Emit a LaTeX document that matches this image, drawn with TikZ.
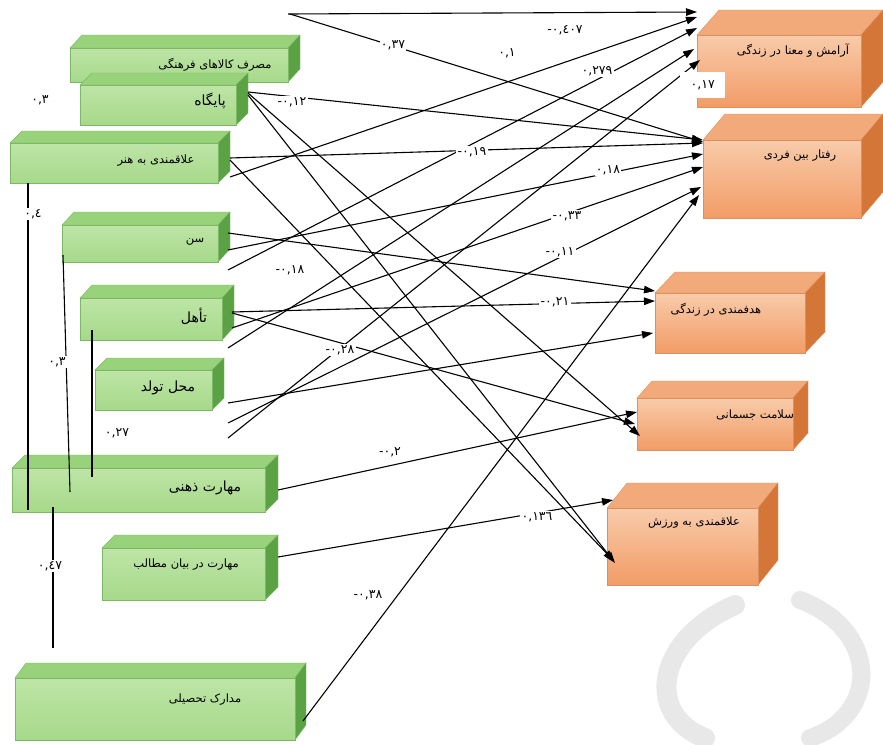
\documentclass[tikz,border=0pt]{standalone}
\usepackage{fontspec}
\usetikzlibrary{arrows.meta,calc}
\TeXXeTstate=1
\newfontfamily\arabicfont[Script=Arabic]{DejaVu Sans}
\newfontfamily\numfont{DejaVu Sans}
\definecolor{gtop}{HTML}{98D27A}
\definecolor{gside}{HTML}{5AA244}
\definecolor{gedge}{HTML}{7DB866}
\definecolor{gdark}{HTML}{A6D98A}
\definecolor{gmid}{HTML}{F0F9EA}
\definecolor{glite}{HTML}{BEE5A6}
\definecolor{otop}{HTML}{F3AA7A}
\definecolor{oside}{HTML}{D47638}
\definecolor{oedge}{HTML}{DC9060}
\definecolor{odark}{HTML}{F29C66}
\definecolor{omid}{HTML}{FDF0E7}
\definecolor{olite}{HTML}{F8CBAA}
\definecolor{wmark}{HTML}{E8E8E8}
\newcommand\cubebox[8]{%
  \filldraw[fill=#8top, draw=#8edge, line width=0.4pt] (#2,#3) -- (#2+#6,#3-#7) -- (#4+#6,#3-#7) -- (#4,#3) -- cycle;
  \filldraw[fill=#8side, draw=#8edge, line width=0.4pt] (#4,#3) -- (#4+#6,#3-#7) -- (#4+#6,#5-#7) -- (#4,#5) -- cycle;
  \node[#8front, minimum width={#4-#2}, minimum height={#5-#3}] (#1) at (#2,#3) {};
}
\begin{document}
\begin{tikzpicture}[x=1pt,y=-1pt,
  gfront/.style={anchor=north west, inner sep=0pt, outer sep=0pt, draw=gedge, line width=0.4pt,
    top color=glite, middle color=gmid, bottom color=gdark},
  ofront/.style={anchor=north west, inner sep=0pt, outer sep=0pt, draw=oedge, line width=0.4pt,
    top color=olite, middle color=omid, bottom color=odark},
  tnorm/.style={font=\arabicfont\fontsize{11.5}{12}\selectfont, inner sep=0pt},
  tbig/.style={font=\arabicfont\fontsize{14}{15}\selectfont, inner sep=0pt},
  lab/.style={font=\numfont\fontsize{12.5}{13}\selectfont, fill=white, inner sep=1.2pt},
  conn/.style={line width=1.1pt, -{Triangle[length=11pt,width=7.5pt]}},
  corr/.style={line width=1.1pt}]
\useasboundingbox (0,0) rectangle (883,744);
\fill[white] (0,0) rectangle (883,744);
% watermark
\draw[wmark, line width=20pt, line cap=round] (735,605) .. controls (655,640) and (645,715) .. (705,738);
\draw[wmark, line width=18pt, line cap=round] (800,600) .. controls (880,630) and (880,715) .. (810,738);
% green boxes
\cubebox{masraf}{70}{48}{288}{82}{12}{13}{g}
\cubebox{paygah}{80}{85}{236}{125}{12}{12}{g}
\cubebox{alaghe}{10}{143}{218}{183}{12}{12}{g}
\cubebox{sen}{62}{225}{218}{262}{12}{13}{g}
\cubebox{taahol}{80}{298}{222}{340}{12}{13}{g}
\cubebox{mahal}{95}{370}{212}{410}{12}{12}{g}
\cubebox{zehni}{12}{468}{265}{512}{13}{13}{g}
\cubebox{bayan}{102}{548}{265}{600}{13}{13}{g}
\cubebox{madarek}{15}{678}{295}{740}{11}{15}{g}
% orange boxes
\cubebox{aramesh}{697}{35}{861}{107}{22}{25}{o}
\cubebox{raftar}{703}{140}{861}{218}{22}{26}{o}
\cubebox{hadaf}{655}{293}{805}{353}{20}{21}{o}
\cubebox{salamat}{637}{398}{793}{450}{15}{17}{o}
\cubebox{varzesh}{607}{508}{758}{585}{20}{25}{o}
% box texts
\node[tnorm] (masraf-t) at (215,65) {\beginR مصرف کالاهای  فرهنگی\endR};
\node[tbig] (paygah-t) at (210,101) {\beginR پایگاه\endR};
\node[tnorm] (alaghe-t) at (156,161) {\beginR علاقمندی به هنر\endR};
\node[tnorm] (sen-t) at (195,242) {\beginR سن\endR};
\node[tbig] (taahol-t) at (194,316) {\beginR تأهل\endR};
\node[tbig] (mahal-t) at (168,388) {\beginR محل تولد\endR};
\node[tbig] (zehni-t) at (205,488) {\beginR مهارت ذهنی\endR};
\node[tnorm] (bayan-t) at (186,565) {\beginR مهارت  در بیان مطالب\endR};
\node[tnorm] (madarek-t) at (205,700) {\beginR مدارک تحصیلی\endR};
\node[tnorm] (aramesh-t) at (793,51) {\beginR آرامش و معنا در زندگی\endR};
\node[tnorm] (raftar-t) at (800,156) {\beginR رفتار بین فردی\endR};
\node[tnorm] (hadaf-t) at (716,310) {\beginR هدفمندی  در زندگی\endR};
\node[tnorm] (salamat-t) at (755,415) {\beginR سلامت جسمانی\endR};
\node[tnorm] (varzesh-t) at (694,523) {\beginR علاقمندی به ورزش\endR};
% connectors to aramesh
\draw[conn] ([shift={(0,-51)}]masraf.east) -- ([shift={(0,-59)}]aramesh.west);
\draw[conn] ([shift={(12,14)}]alaghe.east) -- ([shift={(0,-54)}]aramesh.west);
\draw[conn] ([shift={(10,26.5)}]sen.east) -- ([shift={(0,-43)}]aramesh.west);
\draw[conn] ([shift={(6,29)}]taahol.east) -- ([shift={(-3,-22)}]aramesh.west);
\draw[conn] ([shift={(16,48)}]mahal.east) -- ([shift={(3,-11)}]aramesh.west);
% connectors to raftar
\draw[conn] ([shift={(2,-51)}]masraf.east) -- ([shift={(0,-37)}]raftar.west);
\draw[conn] ([shift={(12,-13)}]paygah.east) -- ([shift={(0,-39)}]raftar.west);
\draw[conn] ([shift={(12,-5)}]alaghe.east) -- ([shift={(0,-36)}]raftar.west);
\draw[conn] ([shift={(10,6.5)}]sen.east) -- ([shift={(0,-25)}]raftar.west);
\draw[conn] ([shift={(10,9)}]taahol.east) -- ([shift={(0,-12)}]raftar.west);
\draw[conn] ([shift={(16,33)}]mahal.east) -- ([shift={(-2,8)}]raftar.west);
\draw[conn] ([shift={(8,12)}]madarek.east) -- ([shift={(-4,16)}]raftar.west);
% connectors to hadaf
\draw[conn] ([shift={(10,-10.5)}]sen.east) -- ([shift={(0,-32)}]hadaf.west);
\draw[conn] ([shift={(10,-7)}]taahol.east) -- ([shift={(0,-22)}]hadaf.west);
\draw[conn] ([shift={(16,13)}]mahal.east) -- ([shift={(-2,10)}]hadaf.west);
% connectors to salamat
\draw[conn] ([shift={(12,-12)}]paygah.east) -- ([shift={(3,12)}]salamat.west);
\draw[conn] ([shift={(10,-6)}]taahol.east) -- ([shift={(-2,0)}]salamat.west);
\draw[conn] ([shift={(13,0)}]zehni.east) -- ([shift={(0,-12)}]salamat.west);
% connectors to varzesh
\draw[conn] ([shift={(12,-10)}]paygah.east) -- ([shift={(8,16.5)}]varzesh.west);
\draw[conn] ([shift={(12,-3)}]alaghe.east) -- ([shift={(7,14.5)}]varzesh.west);
\draw[conn] ([shift={(13,-17)}]bayan.east) -- ([shift={(6,-46.5)}]varzesh.west);
% correlations on the left
\draw[corr] ([shift={(18,0)}]alaghe.south west) -- ([shift={(16,-2)}]zehni.south west);
\draw[corr] ([shift={(1,-7)}]sen.south west) -- ([shift={(58,-20)}]zehni.south west);
\draw[corr] ([shift={(12,-10)}]taahol.south west) -- ([shift={(80,9)}]zehni.north west);
\draw[corr] ([shift={(41,-5)}]zehni.south west) -- ([shift={(38,-30)}]madarek.north west);
% labels
\node[lab] (l1) at (565,30) {-٠,٤٠٧};
\node[lab] (l2) at (393,45) {٠,٣٧};
\node[lab] (l3) at (507,53) {٠,١};
\node[lab] (l4) at (597,71) {٠,٢٧٩};
\node[lab] (l5) at (292,102) {-٠,١٢};
\node[lab] (l6) at (472,152) {-٠,١٩};
\node[lab] (l7) at (608,170) {٠,١٨};
\node[lab] (l8) at (567,216) {-٠,٣٣};
\node[lab] (l9) at (560,252) {-٠,١١};
\node[lab] (l10) at (290,270) {-٠,١٨};
\node[lab] (l11) at (555,302) {-٠,٢١};
\node[lab] (l12) at (340,350) {-٠,٢٨};
\node[lab] (l13) at (390,452) {-٠,٢};
\node[lab] (l14) at (537,517) {٠,١٣٦};
\node[lab] (l15) at (368,595) {-٠,٣٨};
\node[lab] (l16) at (40,100) {٠,٣};
\node[lab] (l17) at (33,214) {٠,٤};
\node[lab] (l18) at (57,362) {٠,٣};
\node[lab] (l19) at (117,433) {٠,٢٧};
\node[lab] (l20) at (50,566) {٠,٤٧};
% white text box with label
\node[fill=white, minimum width=45pt, minimum height=26pt, anchor=north west, inner sep=0pt,
  font=\numfont\fontsize{12.5}{13}\selectfont] (l21) at (680,72) {٠,١٧};
\end{tikzpicture}
\end{document}
